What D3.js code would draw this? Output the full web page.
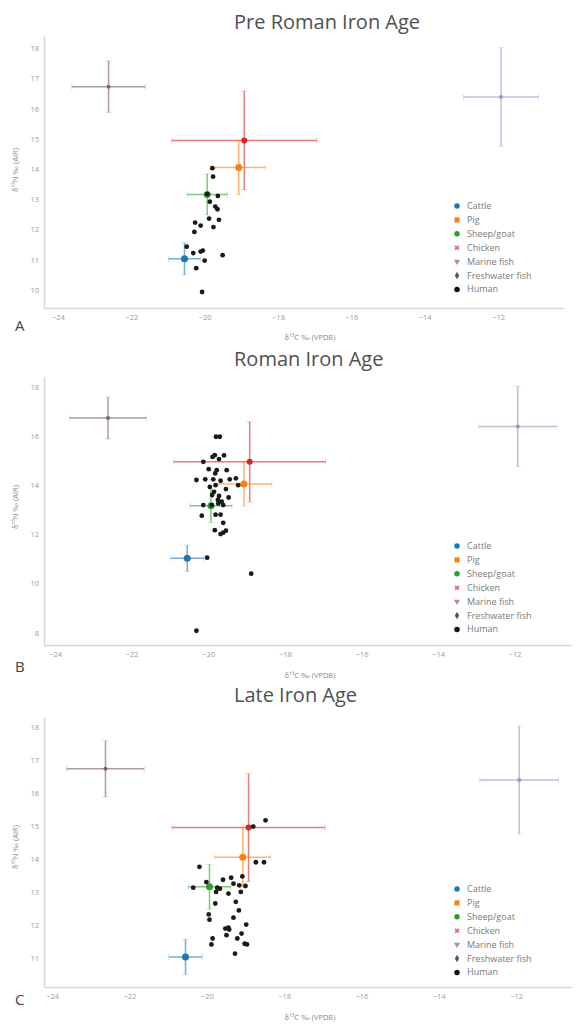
<!DOCTYPE html>
<html><head><meta charset="utf-8">
<script src="https://cdn.jsdelivr.net/npm/d3@7"></script>
<style>body{margin:0;background:#fff;} svg{display:block;font-family:"Open Sans",sans-serif;}</style>
</head><body>
<svg id="chart" width="582" height="1024"></svg>
<script>
// ---------- data ----------
const periods = ["Pre Roman Iron Age", "Roman Iron Age", "Late Iron Age"];
const panelLetters = ["A", "B", "C"];
const groups = ["Cattle", "Pig", "Sheep/goat", "Chicken", "Marine fish", "Freshwater fish", "Human"];
const groupColors = ["#1f77b4", "#ff7f0e", "#2ca02c", "#d62728", "#9a8fbf", "#7a5c5c", "#111111"];
// faunal means and SD (same reference set in all panels)
const meanC = [-20.55, -19.07, -19.93, -18.92, -11.92, -22.62];
const meanN = [11.03, 14.05, 13.16, 14.95, 16.39, 16.73];
const sdC = [0.43, 0.73, 0.55, 1.98, 1.02, 1.00];
const sdN = [0.53, 0.90, 0.68, 1.63, 1.63, 0.85];
// humans
const humanC_A = [-19.79,-19.77,-19.93,-19.64,-19.86,-19.71,-19.65,-19.88,-19.61,-20.26,-20.11,-19.76,-20.28,-20.49,-20.31,-20.11,-20.05,-20.00,-19.51,-20.23,-20.07];
const humanN_A = [14.03,13.75,13.17,13.11,12.92,12.76,12.67,12.36,12.32,12.23,12.13,12.08,11.92,11.43,11.22,11.27,11.30,10.97,11.15,10.72,9.93];
const humanC_B = [-19.80,-19.70,-20.13,-19.89,-19.83,-19.72,-19.59,-19.99,-19.78,-19.82,-19.52,-20.31,-20.08,-19.87,-19.68,-19.44,-19.28,-19.22,-19.96,-19.81,-19.54,-19.85,-19.72,-19.47,-19.65,-19.74,-20.13,-19.91,-19.61,-20.17,-19.81,-19.68,-19.61,-19.83,-19.68,-19.61,-19.54,-20.03,-18.88,-20.31,-19.90,-19.75];
const humanN_B = [15.97,15.97,14.95,15.15,15.22,15.06,15.21,14.65,14.61,14.48,14.61,14.21,14.24,14.24,14.18,14.24,14.28,14.00,13.93,14.00,13.84,13.73,13.56,13.50,13.33,13.26,13.19,13.19,13.19,12.76,12.80,12.80,12.47,12.17,12.01,12.07,12.15,11.05,10.40,8.08,13.60,13.40];
const humanC_C = [-18.48,-18.80,-18.73,-18.52,-20.19,-20.01,-20.35,-19.73,-19.66,-19.58,-19.37,-19.44,-19.31,-19.16,-19.08,-19.00,-19.12,-19.78,-19.25,-19.17,-19.95,-19.93,-19.31,-19.52,-19.44,-19.42,-18.98,-19.49,-19.10,-19.21,-19.85,-19.88,-19.02,-18.96,-19.27,-19.76];
const humanN_C = [15.17,14.98,13.90,13.90,13.76,13.30,13.13,13.13,13.10,13.37,13.43,12.95,13.25,13.20,13.47,13.18,13.00,12.65,12.70,12.44,12.32,12.16,12.22,11.89,11.92,11.86,12.01,11.69,11.74,11.59,11.59,11.41,11.43,11.41,11.13,13.00];
const humanCs = [humanC_A, humanC_B, humanC_C];
const humanNs = [humanN_A, humanN_B, humanN_C];
const xTicks = [-24, -22, -20, -18, -16, -14, -12];
const yTicks_A = [10, 11, 12, 13, 14, 15, 16, 17, 18];
const yTicks_B = [8, 10, 12, 14, 16, 18];
const yTicks_C = [11, 12, 13, 14, 15, 16, 17, 18];
const yTicksAll = [yTicks_A, yTicks_B, yTicks_C];
const xTitle = "δ\u00B9\u00B3C ‰ (VPDB)";
const yTitle = "δ\u00B9\u2075N ‰ (AIR)";

// ---------- layout ----------
const layouts = [
  {titleY: 29, left: 44, right: 563, top: 35, bottom: 308, xd: [-24.38, -10.23], yd: [9.4, 18.44], legY: 206, xTitleY: 340, letterY: 331, yTitleY: 170},
  {titleY: 366, left: 44, right: 571, top: 377, bottom: 645, xd: [-24.29, -10.53], yd: [7.5, 18.4], legY: 546, xTitleY: 678, letterY: 672, yTitleY: 507},
  {titleY: 702, left: 44, right: 571, top: 717, bottom: 987, xd: [-24.21, -10.58], yd: [10.12, 18.3], legY: 889, xTitleY: 1020, letterY: 1005, yTitleY: 847}
];

const svg = d3.select("#chart");
const symbolFor = [d3.symbolCircle, d3.symbolSquare, d3.symbolCircle, d3.symbolCross, d3.symbolTriangle, d3.symbolDiamond, d3.symbolCircle];

periods.forEach((title, p) => {
  const L = layouts[p];
  const g = svg.append("g");
  const x = d3.scaleLinear().domain(L.xd).range([L.left, L.right]);
  const y = d3.scaleLinear().domain(L.yd).range([L.bottom, L.top]);

  g.append("text").attr("x", 234).attr("y", L.titleY).attr("text-anchor", "start")
    .attr("font-size", 20).attr("fill", "#505050").text(title);

  // axes
  const xAxis = d3.axisBottom(x).tickValues(xTicks).tickSize(0).tickPadding(7).tickFormat(d => d3.format("")(d).replace("-", "\u2212"));
  const gx = g.append("g").attr("transform", `translate(0,${L.bottom})`).call(xAxis);
  gx.select(".domain").attr("stroke", "#d8d8d8").attr("stroke-width", 1.5);
  gx.selectAll("text").attr("font-size", 7.5).attr("fill", "#9a9a9a").attr("font-family", "Open Sans");
  const yAxis = d3.axisLeft(y).tickValues(yTicksAll[p]).tickSize(0).tickPadding(5);
  const gy = g.append("g").attr("transform", `translate(${L.left},0)`).call(yAxis);
  gy.select(".domain").attr("stroke", "#d8d8d8").attr("stroke-width", 1.5);
  gy.selectAll("text").attr("font-size", 7.5).attr("fill", "#9a9a9a").attr("font-family", "Open Sans");

  g.append("text").attr("x", 310).attr("y", L.xTitleY).attr("text-anchor", "middle")
    .attr("font-size", 7.5).attr("fill", "#8a8a8a").text(xTitle);
  g.append("text").attr("transform", `translate(18,${L.yTitleY}) rotate(-90)`).attr("text-anchor", "middle")
    .attr("font-size", 7.5).attr("fill", "#8a8a8a").text(yTitle);
  g.append("text").attr("x", 15).attr("y", L.letterY).attr("font-size", 15).attr("fill", "#444").text(panelLetters[p]);

  // fauna error bars
  const order = [5, 4, 3, 1, 2, 0];
  order.forEach(i => {
    const c = groupColors[i];
    const cx = x(meanC[i]), cy = y(meanN[i]);
    const eb = g.append("g").attr("stroke", c).attr("stroke-opacity", 0.6).attr("stroke-width", 1.5);
    eb.append("line").attr("x1", x(meanC[i] - sdC[i])).attr("x2", x(meanC[i] + sdC[i])).attr("y1", cy).attr("y2", cy);
    eb.append("line").attr("x1", cx).attr("x2", cx).attr("y1", y(meanN[i] - sdN[i])).attr("y2", y(meanN[i] + sdN[i]));
    const cap = 3;
    const caps = g.append("g").attr("stroke", c).attr("stroke-opacity", 0.25).attr("stroke-width", 1);
    [meanC[i] - sdC[i], meanC[i] + sdC[i]].forEach(v => caps.append("line").attr("x1", x(v)).attr("x2", x(v)).attr("y1", cy - cap).attr("y2", cy + cap));
    [meanN[i] - sdN[i], meanN[i] + sdN[i]].forEach(v => caps.append("line").attr("y1", y(v)).attr("y2", y(v)).attr("x1", cx - cap).attr("x2", cx + cap));
    const r = i >= 4 ? 2 : (i === 3 ? 3 : 3.5);
    g.append("circle").attr("cx", cx).attr("cy", cy).attr("r", r).attr("fill", c).attr("fill-opacity", i >= 4 ? 0.9 : 1);
  });

  // humans
  const hc = humanCs[p], hn = humanNs[p];
  g.selectAll(".hum").data(hc.map((v, k) => [v, hn[k]])).enter().append("circle")
    .attr("cx", d => x(d[0])).attr("cy", d => y(d[1])).attr("r", 2.4).attr("fill", "#1a1a1a");

  // legend
  groups.forEach((name, i) => {
    const ly = L.legY + i * 13.9;
    const sz = i === 1 ? 26 : (i >= 3 && i <= 5 ? 16 : 24);
    g.append("path").attr("d", d3.symbol().type(symbolFor[i]).size(sz)())
      .attr("transform", `translate(457,${ly})${i === 4 ? " rotate(180)" : ""}${i === 3 ? " rotate(45)" : ""}`)
      .attr("fill", i === 3 ? "#e0707a" : (i === 4 ? "#c080b0" : (i === 5 ? "#555" : groupColors[i])));
    g.append("text").attr("x", 467).attr("y", ly + 3).attr("font-size", 9).attr("fill", "#7a7a7a").text(name);
  });
});
</script>
</body></html>
